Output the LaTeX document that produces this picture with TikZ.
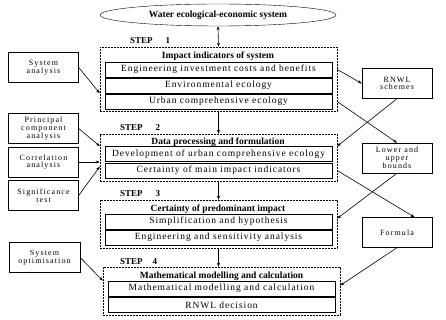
\documentclass[tikz,border=0pt]{standalone}
\usepackage{fontspec}
\setmainfont{Liberation Serif}
\newfontfamily\widefont[LetterSpace=10]{Liberation Serif}
\newfontfamily\sidefont[LetterSpace=14]{Liberation Serif}
\usetikzlibrary{arrows.meta,positioning,calc,shapes.geometric}
\tikzset{
  row/.style={draw,line width=0.6pt,minimum width=227pt,minimum height=15pt,
              inner sep=0pt,font=\fontsize{9.5}{10}\widefont},
  stepbox/.style={draw,dash pattern=on 1.6pt off 1.4pt,inner sep=0pt,minimum width=237pt},
  ttl/.style={font=\fontsize{9.5}{11}\selectfont\bfseries,inner sep=0pt},
  side/.style={draw,align=center,minimum width=70pt,minimum height=30pt,inner sep=1pt,
               font=\fontsize{8}{7.8}\sidefont},
  steplbl/.style={font=\fontsize{9}{10}\selectfont\bfseries,anchor=west,inner sep=0pt},
  ar/.style={-{Stealth[length=4pt,width=3pt]},semithick}
}

\begin{document}
\begin{tikzpicture}[x=1pt,y=-1pt]
  \useasboundingbox (0,0) rectangle (446,320);
  % top system
  \node[draw,ellipse,minimum width=236pt,minimum height=22pt,ttl] (wes) at (218,15)
    {Water ecological-economic system};

  % step 1
  \node[stepbox,minimum height=64pt] (s1) at (218.5,79) {};
  \node[steplbl] (l1) at (130,41) {STEP\hspace{13pt}1};
  \node[ttl] (t1) at (218,56) {Impact indicators of system};
  \node[row] (r1a) at (218.5,69.5) {Engineering investment costs and benefits};
  \node[row] (r1b) at (218.5,85.5) {Environmental ecology};
  \node[row] (r1c) at (218.5,101.5) {Urban comprehensive ecology};

  % step 2
  \node[stepbox,minimum height=47pt] (s2) at (218.5,157.5) {};
  \node[steplbl] (l2) at (120,128) {STEP\hspace{13pt}2};
  \node[ttl] (t2) at (218,142) {Data processing and formulation};
  \node[row] (r2a) at (218.5,154) {Development of urban comprehensive ecology};
  \node[row] (r2b) at (218.5,170.5) {Certainty of main impact indicators};

  % step 3
  \node[stepbox,minimum height=48pt] (s3) at (218.5,224) {};
  \node[steplbl] (l3) at (120,194) {STEP\hspace{13pt}3};
  \node[ttl] (t3) at (218,209) {Certainty of predominant impact};
  \node[row] (r3a) at (218.5,221.5) {Simplification and hypothesis};
  \node[row] (r3b) at (218.5,237.5) {Engineering and sensitivity analysis};

  % step 4
  \node[stepbox,minimum height=48pt] (s4) at (221.5,291) {};
  \node[steplbl] (l4) at (120,262) {STEP\hspace{10pt}4};
  \node[ttl] (t4) at (221.5,276) {Mathematical modelling and calculation};
  \node[row] (r4a) at (221.5,288.5) {Mathematical modelling and calculation};
  \node[row] (r4b) at (221.5,305) {RNWL decision};

  % methods on the left
  \node[side] (sysan) at (43.5,67.5) {System\\analysis};
  \node[side] (pca) at (43.5,128.5) {Principal\\component\\analysis};
  \node[side] (corr) at (43.5,162) {Correlation\\analysis};
  \node[side] (sig) at (43.5,195.5) {Significance\\test};
  \node[side,minimum width=71pt] (sysopt) at (44.5,257.5) {System\\optimisation};

  % results on the right
  \node[side] (rnwl) at (397,83.5) {RNWL\\schemes};
  \node[side] (lub) at (397,158) {Lower and\\upper\\bounds};
  \node[side] (form) at (397,232.5) {Formula};

  % main flow
  \draw[semithick,{Stealth[length=4pt,width=3pt]}-{Stealth[length=4pt,width=3pt]}] (wes.south) -- (s1.north);
  \draw[ar] (s1.south) -- (s2.north);
  \draw[ar] (s2.south) -- (s3.north);
  \draw[ar] (s3.south) -- (s3.south |- s4.north);

  % left inputs
  \draw[ar] (sysan.east) -- (s1.west |- r1b.south);
  \draw[ar] (pca.east) -- (s2.west |- r2a.north);
  \draw[ar] (corr.east) -- (s2.west |- corr.east);
  \draw[ar] (sig.east) -- ([yshift=4pt]s2.west |- r2b.center);
  \draw[ar] (sysopt.east) -- (s4.west |- r4a.north);

  % right crossings
  \draw[ar] (s1.east |- r1a.center) -- (rnwl.west);
  \draw[ar] (s1.east |- r1c.center) -- (lub.north);
  \draw[ar] (rnwl.south) -- (s2.east |- r2a.north);
  \draw[ar] (s2.east |- r2b.center) -- ($(form.north)!0.5!(form.north east)$);
  \draw[ar] (lub.south) -- ([yshift=3pt]s3.east |- r3a.center);
  \draw[ar] (form.south) -- ([yshift=3pt]s4.east |- r4a.center);
\end{tikzpicture}
\end{document}
